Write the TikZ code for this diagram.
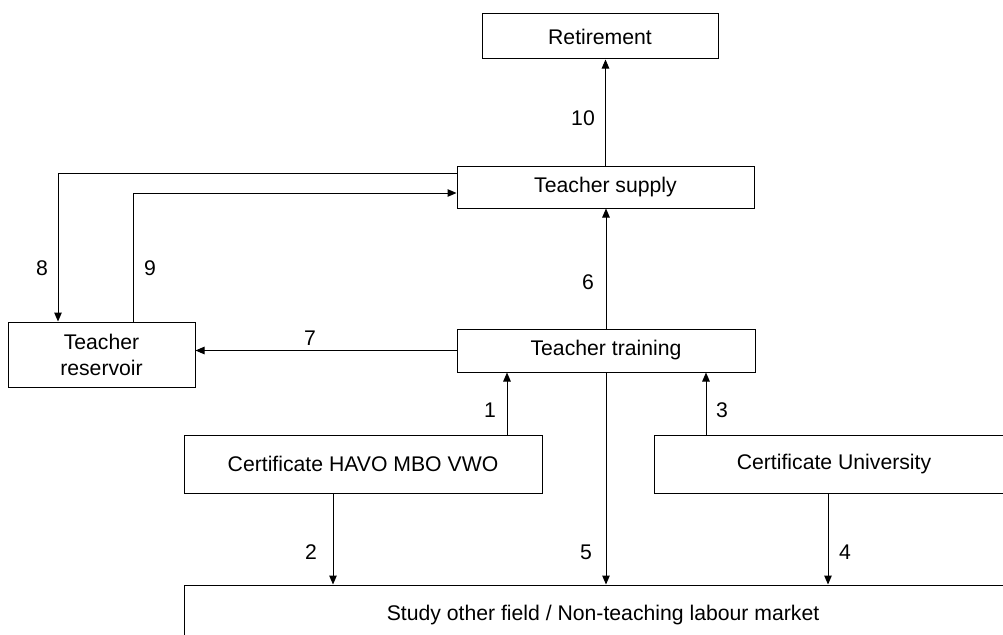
\documentclass[tikz,border=0pt]{standalone}
\usepackage{fontspec}
\setmainfont{Liberation Sans}
\usepackage{tikz}
\usetikzlibrary{arrows.meta,positioning}

\begin{document}
\begin{tikzpicture}[x=1pt, y=-1pt,
  box/.style={draw, line width=1pt, inner sep=0pt, align=center, font=\fontsize{21.2}{27}\selectfont},
  flow/.style={draw, line width=1pt, -{Triangle[length=9pt,width=7.5pt]}},
  num/.style={font=\fontsize{21.2}{27}\selectfont}
]
\clip (0,0) rectangle (1003,634);
% boxes
\node[box, minimum width=236pt, minimum height=45pt] (ret) at (600,36.5) {Retirement};
\node[box, minimum width=297pt, minimum height=42pt] (sup) at (605.5,187) {Teacher supply};
\node[box, minimum width=298pt, minimum height=43pt] (trn) at (606,350.5) {Teacher training};
\node[box, minimum width=187pt, minimum height=65pt] (res) at (101.5,354.5) {Teacher\\[-1pt]reservoir};
\node[box, minimum width=358pt, minimum height=58pt] (havo) at (363,464) {Certificate HAVO MBO VWO};
\node[box, minimum width=360pt, minimum height=58pt] (uni) at (834,464) {Certificate University};
\node[box, minimum width=838pt, minimum height=60pt] (oth) at (603,615) {Study other field / Non-teaching labour market};
% flows
\draw[flow] (sup.north) -- (sup.north |- ret.south);
\draw[flow] (trn.north) -- (trn.north |- sup.south);
\draw[flow] ([yshift=14pt]sup.west) -| ([xshift=-43.5pt]res.north);
\draw[flow] ([xshift=31.5pt]res.north) |- ([yshift=-6pt]sup.west);
\draw[flow] (trn.west) -- (trn.west -| res.east);
\draw[flow] ([xshift=144pt]havo.north) -- ([xshift=144pt]havo.north |- trn.south);
\draw[flow] ([xshift=-128pt]uni.north) -- ([xshift=-128pt]uni.north |- trn.south);
\draw[flow] ([xshift=-30pt]havo.south) -- ([xshift=-30pt]havo.south |- oth.north);
\draw[flow] (trn.south) -- (trn.south |- oth.north);
\draw[flow] ([xshift=-6pt]uni.south) -- ([xshift=-6pt]uni.south |- oth.north);
% numbers
\node[num] (n10) at (583,118) {10};
\node[num] (n6) at (588,282) {6};
\node[num] (n8) at (42,268) {8};
\node[num] (n9) at (150,268) {9};
\node[num] (n7) at (310,338) {7};
\node[num] (n1) at (490,410) {1};
\node[num] (n3) at (722,410) {3};
\node[num] (n2) at (311,552) {2};
\node[num] (n5) at (586,552) {5};
\node[num] (n4) at (845,552) {4};
\end{tikzpicture}
\end{document}
